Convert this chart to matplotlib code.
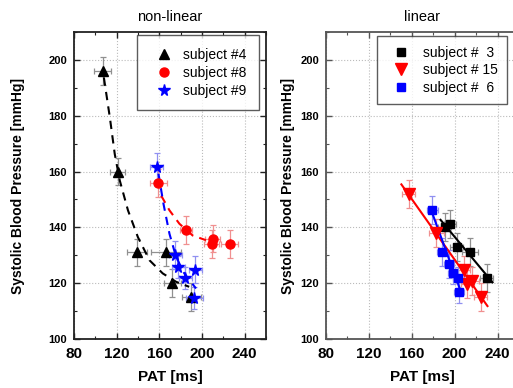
import numpy as np
import matplotlib
matplotlib.use('Agg')
import matplotlib.pyplot as plt
from matplotlib.ticker import MultipleLocator

plt.rcParams['font.family'] = ['Liberation Sans', 'DejaVu Sans']

# ---- non-linear panel ----
s4_x = [107, 121, 139, 166, 172, 190]
s4_y = [196, 160, 131, 131, 120, 115]
s4_xerr = [8, 7, 9, 14, 8, 9]
s4_yerr = [5, 5, 5, 5, 5, 5]
s4_fit_x = [108, 113.6, 118.2, 122.9, 130.6, 139.9, 150.8, 163.2, 175.7, 188]
s4_fit_y = [193.7, 179.4, 166.3, 156.8, 146.1, 136.5, 128.2, 123.5, 120.5, 118.7]

s8_x = [159, 185, 210, 209, 226]
s8_y = [156, 139, 136, 134, 134]
s8_xerr = [8, 6, 7, 7, 8]
s8_yerr = [5, 5, 5, 5, 5]
s8_fit_x = [161.7, 169.5, 178.8, 191.2, 203.7]
s8_fit_y = [151.4, 146.1, 141.3, 137.1, 135.4]

s9_x = [157.7, 174.8, 177.6, 184.4, 193.7, 192.8]
s9_y = [161.5, 130, 125.8, 121.9, 124.9, 114.8]
s9_xerr = [6, 6, 6, 6, 6, 8]
s9_yerr = [5, 5, 4, 4, 5, 4]
s9_fit_x = [159.2, 163.9, 169.5, 175.7, 183.4, 194.4]
s9_fit_y = [159.2, 148.4, 137.7, 129.4, 123.5, 118.1]

# ---- linear panel ----
s3_x = [190.9, 195.6, 201.8, 214.3, 230]
s3_y = [140.1, 141.1, 133, 131.2, 122]
s3_xerr = [6, 6, 6, 7, 6]
s3_yerr = [5, 5, 5, 5, 5]
s3_fit_x = [186.8, 235.3]
s3_fit_y = [142.7, 120.3]

s15_x = [157.2, 182.8, 208.7, 211.9, 216.6, 224.3]
s15_y = [151.8, 138.1, 124.9, 119.6, 120.8, 114.9]
s15_xerr = [6, 7, 6, 6, 6, 6]
s15_yerr = [5, 5, 5, 5, 5, 5]
s15_fit_x = [150.3, 230.6]
s15_fit_y = [155.4, 111.8]

s6_x = [179.1, 188.4, 194.6, 198.4, 203.4, 204]
s6_y = [146.1, 131.2, 127, 123.8, 121.9, 116.9]
s6_xerr = [5, 5, 5, 5, 5, 5]
s6_yerr = [5, 5, 5, 4, 4, 4]
s6_fit_x = [179.1, 207.2]
s6_fit_y = [145.1, 115.5]

fig = plt.figure(figsize=(5.13, 3.88), dpi=100)
ax1 = fig.add_axes([74 / 513, 49 / 388, 192 / 513, 307 / 388])
ax2 = fig.add_axes([326 / 513, 49 / 388, 193 / 513, 307 / 388])


def style_axes(ax, title, ylabelpad, spine_color):
    ax.set_xlim(80, 260)
    ax.set_ylim(100, 210)
    ax.xaxis.set_major_locator(MultipleLocator(40))
    ax.xaxis.set_minor_locator(MultipleLocator(20))
    ax.yaxis.set_major_locator(MultipleLocator(20))
    ax.yaxis.set_minor_locator(MultipleLocator(10))
    ax.grid(True, which='major', linestyle=':', color='#bbbbbb', linewidth=0.8)
    ax.set_axisbelow(True)
    ax.tick_params(which='both', direction='in', top=True, right=True, color=spine_color)
    ax.tick_params(which='major', length=4, width=1.0)
    ax.tick_params(which='minor', length=2.5, width=0.8)
    ax.tick_params(axis='x', labelsize=11, pad=6)
    ax.tick_params(axis='y', labelsize=8, pad=5)
    for lbl in ax.get_xticklabels() + ax.get_yticklabels():
        lbl.set_fontweight('bold')
    for sp in ax.spines.values():
        sp.set_color(spine_color)
        sp.set_linewidth(1.3)
    ax.set_xlabel('PAT [ms]', fontsize=11, fontweight='bold', labelpad=6)
    ax.set_ylabel('Systolic Blood Pressure [mmHg]', fontsize=10, fontweight='bold',
                  labelpad=ylabelpad)
    ax.set_title(title, fontsize=10.5, pad=8)


def plot_series(ax, x, y, xerr, yerr, color, ecolor, marker, ms, label):
    ax.errorbar(x, y, xerr=xerr, yerr=yerr, fmt='none', ecolor=ecolor,
                elinewidth=0.9, capsize=2.5, capthick=0.9, zorder=2)
    ax.plot(x, y, linestyle='none', marker=marker, color=color, markersize=ms,
            label=label, zorder=4)


# non-linear
ax1.plot(s4_fit_x, s4_fit_y, '--', color='black', linewidth=1.5, dashes=(4, 3), zorder=3)
ax1.plot(s8_fit_x, s8_fit_y, '--', color='red', linewidth=1.5, dashes=(4, 3), zorder=3)
ax1.plot(s9_fit_x, s9_fit_y, '--', color='blue', linewidth=1.5, dashes=(4, 3), zorder=3)
plot_series(ax1, s4_x, s4_y, s4_xerr, s4_yerr, 'black', '#909090', '^', 7, 'subject #4')
plot_series(ax1, s8_x, s8_y, s8_xerr, s8_yerr, 'red', '#f09090', 'o', 6.5, 'subject #8')
plot_series(ax1, s9_x, s9_y, s9_xerr, s9_yerr, 'blue', '#9090f0', '*', 8.5, 'subject #9')
style_axes(ax1, 'non-linear', 17, '#222222')
leg1 = ax1.legend(loc='upper right', fontsize=10, frameon=True, fancybox=False,
                  edgecolor='#333333', borderpad=0.9, handletextpad=0.4,
                  labelspacing=0.3, borderaxespad=0, bbox_to_anchor=(0.964, 0.99))
leg1.get_frame().set_linewidth(1.0)

# linear
ax2.plot(s3_fit_x, s3_fit_y, '-', color='black', linewidth=1.5, zorder=3)
ax2.plot(s15_fit_x, s15_fit_y, '-', color='red', linewidth=1.5, zorder=3)
ax2.plot(s6_fit_x, s6_fit_y, '-', color='blue', linewidth=1.5, zorder=3)
plot_series(ax2, s3_x, s3_y, s3_xerr, s3_yerr, 'black', '#909090', 's', 5.5, 'subject #  3')
plot_series(ax2, s15_x, s15_y, s15_xerr, s15_yerr, 'red', '#f09090', 'v', 8, 'subject # 15')
plot_series(ax2, s6_x, s6_y, s6_xerr, s6_yerr, 'blue', '#9090f0', 's', 5.5, 'subject #  6')
style_axes(ax2, 'linear', 4, '#555555')
leg2 = ax2.legend(loc='upper left', fontsize=10, frameon=True, fancybox=False,
                  edgecolor='#333333', borderpad=0.7, handletextpad=0.6,
                  labelspacing=0.25, borderaxespad=0, bbox_to_anchor=(0.264, 0.987))
leg2.get_frame().set_linewidth(1.0)

fig.savefig('out.png', dpi=100)
